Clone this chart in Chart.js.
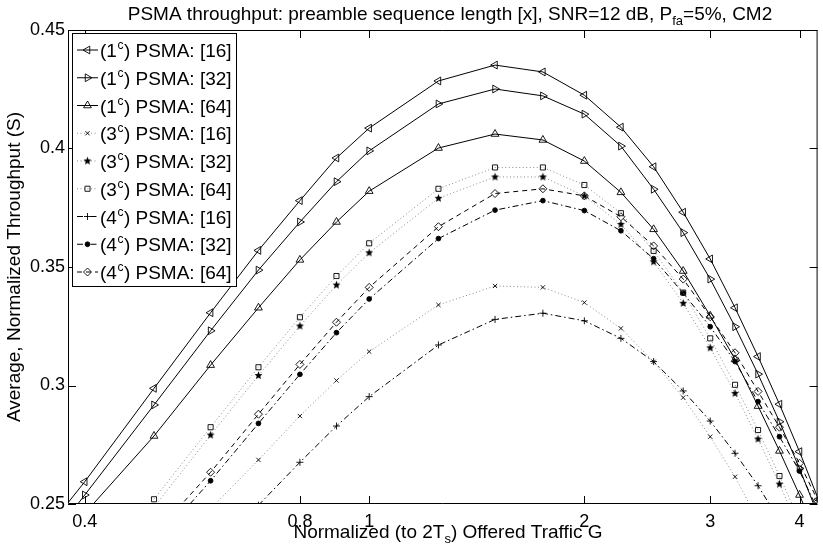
<!DOCTYPE html>
<html>
<head>
<meta charset="utf-8">
<script src="https://cdn.jsdelivr.net/npm/chart.js@4.4.1/dist/chart.umd.min.js"></script>
<style>
  html, body { margin: 0; padding: 0; background: #fff; }
  #wrap { width: 823px; height: 551px; }
</style>
</head>
<body>
<div id="wrap"><canvas id="chart" width="823" height="551"></canvas></div>
<script>
// offered traffic G (normalized to 2Ts)
const trafficG = [0.3, 0.4, 0.5, 0.6, 0.7, 0.8, 0.9, 1.0, 1.25, 1.5, 1.75, 2.0, 2.25, 2.5, 2.75, 3.0, 3.25, 3.5, 3.75, 4.0, 4.25];

// average normalized throughput S, one list per curve (null = no point)
const psma1c16 = [0.212, 0.2594, 0.2988, 0.3307, 0.357, 0.378, 0.396, 0.4086, 0.4285, 0.4352, 0.4323, 0.4225, 0.409, 0.3923, 0.3731, 0.3534, 0.3328, 0.3122, 0.2921, 0.2721, 0.252];
const psma1c32 = [0.205, 0.2538, 0.2918, 0.3231, 0.3487, 0.369, 0.386, 0.399, 0.4188, 0.4251, 0.4222, 0.4145, 0.401, 0.3828, 0.3645, 0.3449, 0.3248, 0.3048, 0.2847, 0.265, 0.245];
const psma1c64 = [0.2, 0.246, 0.2787, 0.3086, 0.3328, 0.353, 0.369, 0.382, 0.4002, 0.4061, 0.4036, 0.3947, 0.3815, 0.3659, 0.3483, 0.3294, 0.311, 0.2913, 0.2724, 0.2538, 0.235];
const psma3c16 = [null, null, null, 0.248, 0.2686, 0.2871, 0.3021, 0.3143, 0.334, 0.342, 0.3414, 0.335, 0.3241, 0.310, 0.2949, 0.2784, 0.2615, 0.243, null, null, null];
const psma3c32 = [null, null, 0.2487, 0.2791, 0.3042, 0.3251, 0.3424, 0.356, 0.379, 0.388, 0.388, 0.380, 0.368, 0.3522, 0.3347, 0.3159, 0.2967, 0.2774, 0.2584, 0.239, null];
const psma3c64 = [null, null, 0.252, 0.2824, 0.3077, 0.3288, 0.3462, 0.360, 0.383, 0.392, 0.392, 0.3846, 0.3727, 0.3568, 0.3392, 0.3199, 0.3003, 0.2812, 0.2618, 0.243, null];
const psma4c16 = [null, null, null, null, 0.2495, 0.2676, 0.2829, 0.2953, 0.3171, 0.3279, 0.3305, 0.3273, 0.3199, 0.3101, 0.2977, 0.285, 0.2714, 0.2577, 0.243, null, null];
const psma4c32 = [null, null, 0.233, 0.2598, 0.284, 0.3047, 0.3223, 0.3365, 0.362, 0.374, 0.378, 0.3738, 0.3653, 0.3535, 0.339, 0.3248, 0.3101, 0.2932, 0.2784, 0.2639, 0.247];
const psma4c64 = [null, null, 0.237, 0.2634, 0.2879, 0.3089, 0.3267, 0.3414, 0.367, 0.381, 0.383, 0.380, 0.3712, 0.3589, 0.3449, 0.329, 0.3138, 0.2975, 0.2824, 0.2672, 0.251];

// legend pieces: prefix, superscript, suffix
const seriesNames = [
  ['(1', 'c', ') PSMA: [16]'], ['(1', 'c', ') PSMA: [32]'], ['(1', 'c', ') PSMA: [64]'],
  ['(3', 'c', ') PSMA: [16]'], ['(3', 'c', ') PSMA: [32]'], ['(3', 'c', ') PSMA: [64]'],
  ['(4', 'c', ') PSMA: [16]'], ['(4', 'c', ') PSMA: [32]'], ['(4', 'c', ') PSMA: [64]']
];
const xTickValues = [0.4, 0.8, 1, 2, 3, 4];
const yTickValues = [0.25, 0.3, 0.35, 0.4, 0.45];

const FONT = "'Liberation Sans', Arial, Helvetica, sans-serif";

// filled five point star marker
function makeStar(r) {
  const c = document.createElement('canvas');
  c.width = c.height = Math.ceil(2 * r + 2);
  const g = c.getContext('2d');
  const cx = c.width / 2, cy = c.height / 2;
  g.beginPath();
  for (let i = 0; i < 10; i++) {
    const rr = i % 2 === 0 ? r : r * 0.45;
    const a = -Math.PI / 2 + i * Math.PI / 5;
    g.lineTo(cx + rr * Math.cos(a), cy + rr * Math.sin(a));
  }
  g.closePath();
  g.fillStyle = '#000';
  g.fill();
  return c;
}
const starMark = makeStar(4.2);

function pts(arr) {
  const out = [];
  arr.forEach((v, i) => { if (v !== null) out.push({ x: trafficG[i], y: v }); });
  return out;
}

const GRAY = '#8a8a8a';
const styles = [
  { data: psma1c16, color: '#000', dash: [], ps: 'triangle', rot: -90, r: 4.5, fill: 'rgba(0,0,0,0)' },
  { data: psma1c32, color: '#000', dash: [], ps: 'triangle', rot: 90, r: 4.5, fill: 'rgba(0,0,0,0)' },
  { data: psma1c64, color: '#000', dash: [], ps: 'triangle', rot: 0, r: 4.5, fill: 'rgba(0,0,0,0)' },
  { data: psma3c16, color: GRAY, dash: [1, 2.5], ps: 'crossRot', rot: 0, r: 3, fill: 'rgba(0,0,0,0)' },
  { data: psma3c32, color: GRAY, dash: [1, 2.5], ps: starMark, rot: 0, r: 4, fill: '#000' },
  { data: psma3c64, color: GRAY, dash: [1, 2.5], ps: 'rect', rot: 0, r: 3.6, fill: 'rgba(0,0,0,0)' },
  { data: psma4c16, color: '#000', dash: [6, 3, 1.5, 3], ps: 'cross', rot: 0, r: 3.5, fill: 'rgba(0,0,0,0)' },
  { data: psma4c32, color: '#000', dash: [6, 3, 1.5, 3], ps: 'circle', rot: 0, r: 2.4, fill: '#000' },
  { data: psma4c64, color: '#000', dash: [5, 4], ps: 'rectRot', rot: 0, r: 4, fill: 'rgba(0,0,0,0)' }
];

const datasets = styles.map((s, i) => ({
  label: seriesNames[i].join(''),
  data: pts(s.data),
  borderColor: s.color,
  borderWidth: 1,
  borderDash: s.dash,
  pointStyle: s.ps,
  pointRotation: s.rot,
  pointRadius: s.r,
  pointBorderColor: '#000',
  pointBorderWidth: 0.9,
  pointBackgroundColor: s.fill,
  tension: 0,
  fill: false,
  clip: 0
}));

// frame, inward ticks, legend and titles (MATLAB style)
const decorPlugin = {
  id: 'decor',
  afterDraw(chart) {
    const ctx = chart.ctx;
    const { left, right, top, bottom } = chart.chartArea;
    const xs = chart.scales.x, ys = chart.scales.y;
    ctx.save();
    ctx.strokeStyle = '#000';
    ctx.lineWidth = 1;
    ctx.beginPath();
    ctx.rect(left + 0.5, top + 0.5, right - left - 1, bottom - top - 1);
    ctx.stroke();
    ctx.beginPath();
    yTickValues.forEach(v => {
      const y = Math.round(ys.getPixelForValue(v)) + 0.5;
      ctx.moveTo(left, y); ctx.lineTo(left + 8, y);
      ctx.moveTo(right, y); ctx.lineTo(right - 8, y);
    });
    xTickValues.forEach(v => {
      const x = Math.round(xs.getPixelForValue(v)) + 0.5;
      ctx.moveTo(x, bottom); ctx.lineTo(x, bottom - 8);
      ctx.moveTo(x, top); ctx.lineTo(x, top + 8);
    });
    ctx.stroke();

    // legend
    const lx = 72, ly = 33, lw = 165, lh = 254;
    ctx.fillStyle = '#fff';
    ctx.fillRect(lx, ly, lw, lh);
    ctx.strokeRect(lx + 0.5, ly + 0.5, lw - 1, lh - 1);
    const metas = chart.data.datasets.map((d, i) => chart.getDatasetMeta(i));
    seriesNames.forEach((parts, i) => {
      const cy = 50 + i * 27.75;
      const ds = chart.data.datasets[i];
      ctx.save();
      ctx.strokeStyle = ds.borderColor;
      ctx.setLineDash(ds.borderDash);
      ctx.beginPath();
      ctx.moveTo(77, cy); ctx.lineTo(98, cy);
      ctx.stroke();
      ctx.restore();
      ctx.save();
      ctx.strokeStyle = '#000';
      ctx.fillStyle = ds.pointBackgroundColor;
      ctx.lineWidth = 0.9;
      Chart.helpers.drawPoint(ctx, {
        pointStyle: ds.pointStyle, rotation: ds.pointRotation,
        radius: ds.pointRadius, borderWidth: 0.9
      }, 87.5, cy);
      ctx.restore();
      ctx.fillStyle = '#000';
      ctx.textBaseline = 'alphabetic';
      ctx.textAlign = 'left';
      let x = 100;
      ctx.font = '19px ' + FONT;
      ctx.fillText(parts[0], x, cy + 7);
      x += ctx.measureText(parts[0]).width;
      ctx.font = '12px ' + FONT;
      ctx.fillText(parts[1], x + 0.5, cy - 1);
      x += ctx.measureText(parts[1]).width + 1;
      ctx.font = '19px ' + FONT;
      ctx.fillText(parts[2], x, cy + 7);
    });

    // title with subscript
    ctx.fillStyle = '#000';
    const tParts = [['PSMA throughput: preamble sequence length [x], SNR=12 dB, P', 19, 0], ['fa', 13, 5], ['=5%, CM2', 19, 0]];
    drawRuns(ctx, tParts, 450, 20);
    // x title with subscript
    const xParts = [['Normalized (to 2T', 19, 0], ['s', 13, 5], [') Offered Traffic G', 19, 0]];
    drawRuns(ctx, xParts, 448, 538);
    // y title
    ctx.save();
    ctx.translate(20, 267);
    ctx.rotate(-Math.PI / 2);
    ctx.font = '19px ' + FONT;
    ctx.textAlign = 'center';
    ctx.textBaseline = 'alphabetic';
    ctx.fillText('Average, Normalized Throughput (S)', 0, 0);
    ctx.restore();
    ctx.restore();
  }
};

function drawRuns(ctx, runs, cx, baseY) {
  let total = 0;
  runs.forEach(r => { ctx.font = r[1] + 'px ' + FONT; total += ctx.measureText(r[0]).width; });
  let x = cx - total / 2;
  ctx.textAlign = 'left';
  ctx.textBaseline = 'alphabetic';
  runs.forEach(r => {
    ctx.font = r[1] + 'px ' + FONT;
    ctx.fillText(r[0], x, baseY + r[2]);
    x += ctx.measureText(r[0]).width;
  });
}

new Chart(document.getElementById('chart'), {
  type: 'line',
  data: { datasets },
  options: {
    responsive: false,
    animation: false,
    devicePixelRatio: 1,
    layout: { padding: { top: 30, right: 0, left: 0, bottom: 0 } },
    plugins: { legend: { display: false }, tooltip: { enabled: false }, title: { display: false } },
    scales: {
      x: {
        type: 'logarithmic',
        min: 0.379,
        max: 4.24,
        grid: { display: false, drawTicks: false },
        border: { display: false },
        afterBuildTicks: s => { s.ticks = xTickValues.map(v => ({ value: v })); },
        afterFit: s => { s.height = 47; },
        ticks: {
          autoSkip: false,
          maxRotation: 0,
          padding: 7,
          color: '#000',
          font: { family: FONT, size: 18 },
          callback: v => String(v)
        }
      },
      y: {
        min: 0.25,
        max: 0.45,
        grid: { display: false, drawTicks: false },
        border: { display: false },
        afterBuildTicks: s => { s.ticks = yTickValues.map(v => ({ value: v })); },
        afterFit: s => { s.width = 68; },
        ticks: {
          padding: 3,
          color: '#000',
          font: { family: FONT, size: 18 },
          callback: v => String(Number(v.toFixed(2)))
        }
      }
    }
  },
  plugins: [decorPlugin]
});
</script>
</body>
</html>
